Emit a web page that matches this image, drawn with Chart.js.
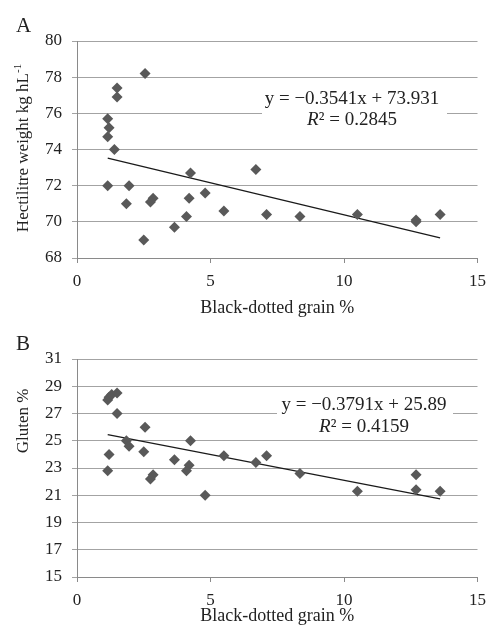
<!DOCTYPE html>
<html>
<head>
<meta charset="utf-8">
<script src="https://cdn.jsdelivr.net/npm/chart.js@4"></script>
<style>
  html, body { margin: 0; padding: 0; background: #fff; }
  #wrap { position: relative; width: 494px; height: 633px; }
  canvas { position: absolute; left: 0; }
</style>
</head>
<body>
<div id="wrap">
  <canvas id="chartA" width="494" height="318" style="top:0"></canvas>
  <canvas id="chartB" width="494" height="315" style="top:318px"></canvas>
</div>
<script>
// Panel A: black-dotted grain % vs hectolitre weight
var grainA = [2.55, 1.5, 1.5, 1.15, 1.2, 1.15, 1.4, 1.15, 1.95, 1.85, 2.85, 2.75, 2.5,
              3.65, 4.1, 4.2, 4.25, 4.8, 5.5, 6.7, 7.1, 8.35, 10.5, 12.7, 12.7, 13.6];
var hectolitre = [78.2, 77.4, 76.9, 75.7, 75.2, 74.7, 74.0, 72.0, 72.0, 71.0, 71.3, 71.1, 69.0,
                  69.7, 70.3, 71.3, 72.7, 71.6, 70.6, 72.9, 70.4, 70.3, 70.4, 70.1, 70.0, 70.4];
var trendAx = [1.15, 13.6];
var trendAy = [73.52, 69.11];
var eqA = 'y = \u22120.3541x + 73.931';
var r2A = '0.2845';

// Panel B: black-dotted grain % vs gluten %
var grainB = [1.15, 1.2, 1.3, 1.5, 1.5, 1.2, 1.15, 1.85, 1.95, 2.55, 2.5, 2.85, 2.75,
              3.65, 4.25, 4.2, 4.1, 4.8, 5.5, 6.7, 7.1, 8.35, 10.5, 12.7, 12.7, 13.6];
var gluten = [28.0, 28.2, 28.4, 28.5, 27.0, 24.0, 22.8, 25.0, 24.6, 26.0, 24.2, 22.5, 22.2,
              23.6, 25.0, 23.2, 22.8, 21.0, 23.9, 23.4, 23.9, 22.6, 21.3, 22.5, 21.4, 21.3];
var trendBx = [1.15, 13.6];
var trendBy = [25.45, 20.73];
var eqB = 'y = \u22120.3791x + 25.89';
var r2B = '0.4159';

var xTicks = [0, 5, 10, 15];
var xTitle = 'Black-dotted grain %';

var SERIF = '"Liberation Serif", "Times New Roman", serif';
var INK = '#222';

function pts(xs, ys) {
  return xs.map(function (x, i) { return { x: x, y: ys[i] }; });
}

// equation box, panel letter and rotated y title
var notes = {
  id: 'notes',
  beforeDatasetsDraw: function (chart, args, o) {
    var ctx = chart.ctx;
    ctx.save();
    ctx.fillStyle = '#fff';
    ctx.fillRect(o.box[0], o.box[1], o.box[2] - o.box[0], o.box[3] - o.box[1]);
    ctx.fillStyle = INK;
    ctx.textBaseline = 'alphabetic';
    ctx.textAlign = 'center';
    ctx.font = '19px ' + SERIF;
    ctx.fillText(o.eq, o.cx, o.base1);
    var rest = '\u00b2 = ' + o.r2;
    ctx.font = 'italic 19px ' + SERIF;
    var wR = ctx.measureText('R').width;
    ctx.font = '19px ' + SERIF;
    var wRest = ctx.measureText(rest).width;
    var x0 = o.cx - (wR + wRest) / 2;
    ctx.textAlign = 'left';
    ctx.font = 'italic 19px ' + SERIF;
    ctx.fillText('R', x0, o.base2);
    ctx.font = '19px ' + SERIF;
    ctx.fillText(rest, x0 + wR, o.base2);
    ctx.restore();
  },
  afterDraw: function (chart, args, o) {
    var ctx = chart.ctx;
    ctx.save();
    ctx.fillStyle = INK;
    ctx.textBaseline = 'alphabetic';
    ctx.textAlign = 'left';
    ctx.font = '21px ' + SERIF;
    ctx.fillText(o.letter, 16, o.letterY);

    ctx.translate(o.titleX, o.titleY);
    ctx.rotate(-Math.PI / 2);
    ctx.font = '17px ' + SERIF;
    var w = ctx.measureText(o.title).width;
    var wSup = 0;
    if (o.sup) {
      ctx.font = '11px ' + SERIF;
      wSup = ctx.measureText(o.sup).width;
    }
    var start = -(w + wSup) / 2;
    ctx.font = '17px ' + SERIF;
    ctx.textBaseline = 'middle';
    ctx.fillText(o.title, start, 0);
    if (o.sup) {
      ctx.font = '11px ' + SERIF;
      ctx.fillText(o.sup, start + w, -6);
    }
    ctx.restore();
  }
};

function makeChart(id, px, py, tx, ty, yMin, yMax, yStep, axisH, padTop, titlePad, note) {
  return new Chart(document.getElementById(id), {
    type: 'scatter',
    data: {
      datasets: [{
        data: pts(px, py),
        pointStyle: 'rectRot',
        pointRadius: 5.5,
        pointHoverRadius: 5.5,
        backgroundColor: '#595959',
        borderColor: '#595959',
        borderWidth: 0
      }, {
        type: 'line',
        data: pts(tx, ty),
        borderColor: '#1a1a1a',
        borderWidth: 1.3,
        pointRadius: 0,
        fill: false
      }]
    },
    options: {
      responsive: false,
      animation: false,
      layout: { padding: { top: padTop, right: 12, left: 0, bottom: 0 } },
      plugins: {
        legend: { display: false },
        tooltip: { enabled: false },
        notes: note
      },
      scales: {
        x: {
          type: 'linear',
          min: 0, max: 15,
          afterBuildTicks: function (s) { s.ticks = xTicks.map(function (v) { return { value: v }; }); },
          afterFit: function (s) { s.height = axisH; },
          grid: { drawOnChartArea: false, drawTicks: true, tickLength: 5, color: '#8a8a8a' },
          border: { color: '#8a8a8a', width: 1 },
          ticks: { color: INK, font: { family: SERIF, size: 17 }, padding: 8, maxRotation: 0 },
          title: {
            display: true, text: xTitle, color: INK,
            font: { family: SERIF, size: 18, lineHeight: 1 },
            padding: { top: 0, bottom: titlePad }
          }
        },
        y: {
          min: yMin, max: yMax,
          afterFit: function (s) { s.width = 77; },
          ticks: { stepSize: yStep, color: INK, font: { family: SERIF, size: 17 }, padding: 10 },
          grid: { color: '#a3a3a3', lineWidth: 1, tickLength: 5 },
          border: { color: '#8a8a8a', width: 1 }
        }
      }
    },
    plugins: [notes]
  });
}

makeChart('chartA', grainA, hectolitre, trendAx, trendAy, 68, 80, 2, 60, 41, 1, {
  eq: eqA, r2: r2A, cx: 352, base1: 104, base2: 125, box: [262, 86, 447, 131],
  letter: 'A', letterY: 32, title: 'Hectilitre weight kg hL', sup: '-1', titleX: 24, titleY: 148
});
makeChart('chartB', grainB, gluten, trendBx, trendBy, 15, 31, 2, 56, 41, 8, {
  eq: eqB, r2: r2B, cx: 364, base1: 92, base2: 114, box: [277, 76, 453, 119],
  letter: 'B', letterY: 32, title: 'Gluten %', sup: '', titleX: 24, titleY: 103
});
</script>
</body>
</html>
